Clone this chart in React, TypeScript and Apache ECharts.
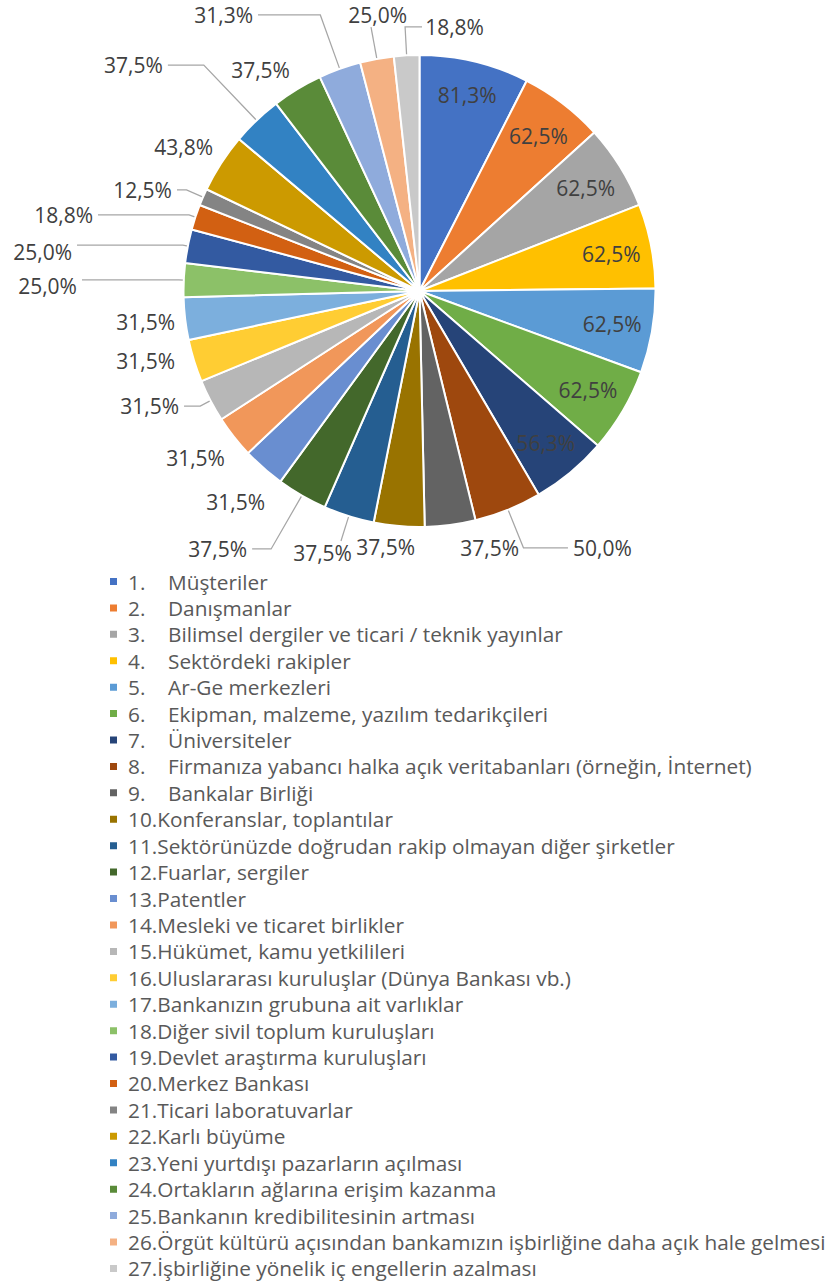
import React, { useEffect, useRef } from "react";
import * as echarts from "echarts";

const categories = [
  "Müşteriler",
  "Danışmanlar",
  "Bilimsel dergiler ve ticari / teknik yayınlar",
  "Sektördeki rakipler",
  "Ar-Ge merkezleri",
  "Ekipman, malzeme, yazılım tedarikçileri",
  "Üniversiteler",
  "Firmanıza yabancı halka açık veritabanları (örneğin, İnternet)",
  "Bankalar Birliği",
  "Konferanslar, toplantılar",
  "Sektörünüzde doğrudan rakip olmayan diğer şirketler",
  "Fuarlar, sergiler",
  "Patentler",
  "Mesleki ve ticaret birlikler",
  "Hükümet, kamu yetkilileri",
  "Uluslararası kuruluşlar (Dünya Bankası vb.)",
  "Bankanızın grubuna ait varlıklar",
  "Diğer sivil toplum kuruluşları",
  "Devlet araştırma kuruluşları",
  "Merkez Bankası",
  "Ticari laboratuvarlar",
  "Karlı büyüme",
  "Yeni yurtdışı pazarların açılması",
  "Ortakların ağlarına erişim kazanma",
  "Bankanın kredibilitesinin artması",
  "Örgüt kültürü açısından bankamızın işbirliğine daha açık hale gelmesi",
  "İşbirliğine yönelik iç engellerin azalması",
];

const values = [
  81.3, 62.5, 62.5, 62.5, 62.5, 62.5, 56.3, 50.0, 37.5, 37.5, 37.5, 37.5, 31.5,
  31.5, 31.5, 31.5, 31.5, 25.0, 25.0, 18.8, 12.5, 43.8, 37.5, 37.5, 31.3, 25.0,
  18.8,
];

const colors = [
  "#4472C4", "#ED7D31", "#A5A5A5", "#FFC000", "#5B9BD5", "#70AD47",
  "#264478", "#9E480E", "#636363", "#997300", "#255E91", "#43682B",
  "#698ED0", "#F1975A", "#B7B7B7", "#FFCD33", "#7CAFDD", "#8CC168",
  "#335AA1", "#D26012", "#848484", "#CC9A00", "#3282C3", "#5A8B39",
  "#8FABDC", "#F4B183", "#C9C9C9",
];

// label placement style: [lineLength, lineLength2, distance, showLine, verticalShift(px)]
const labelPlacement: [number, number, number, boolean, number][] = [
  [-34, -34, 5, false, 0],
  [-41, -34, 5, false, 0],
  [-41, -34, 5, false, 0],
  [-41, -34, 5, false, 0],
  [-41, -34, 5, false, 0],
  [-41, -34, 5, false, 0],
  [-39, -34, 5, false, 0],
  [41, 44.5, 5, true, 0],
  [23, 2, 5, false, 0],
  [21, -22.8, 5, false, 0],
  [26, 0, -11, true, 12],
  [61.6, 19, 5, true, 0],
  [45, -36.4, 5, false, 0],
  [34.5, -23.2, 5, false, 0],
  [11.6, 16.2, 5, true, 0],
  [0, 14, 5, false, 0],
  [28, -22.7, 5, false, 0],
  [5, 96.8, 5, true, 6],
  [5, 105.9, 5, true, 7],
  [6.7, 91, 5, true, 0],
  [18, 9.5, 5, true, 0],
  [29.7, -21.9, 5, false, 0],
  [76.4, 35.9, 5, true, 0],
  [22.3, -9.3, 5, false, 0],
  [57.3, 62.3, 5, true, 0],
  [32.4, 0, -36, true, -12],
  [28.4, -16.9, -62, true, 0],
];

const FONT = "'Open Sans', sans-serif";

export default function App() {
  const ref = useRef<HTMLDivElement>(null);

  useEffect(() => {
    document.body.style.margin = "0";
    if (!ref.current) return;
    const chart = echarts.init(ref.current, null, { renderer: "svg" });

    const names = categories.map((c, i) => `${i + 1}.${c}`);
    const fmt = (v: number) => v.toFixed(1).replace(".", ",") + "%";

    const data = values.map((v, i) => {
      const [len, len2, dist, showLine, shift] = labelPlacement[i];
      const label: any = { distanceToLabelLine: dist };
      if (shift !== 0) {
        label.lineHeight = Math.abs(shift) * 2;
        label.formatter = shift < 0 ? `${fmt(v)}\n ` : ` \n${fmt(v)}`;
      }
      return {
        name: names[i],
        value: v,
        itemStyle: { color: colors[i] },
        label,
        labelLine: { show: showLine, length: len, length2: len2 },
      };
    });

    chart.setOption({
      animation: false,
      legend: {
        orient: "vertical",
        left: 108,
        top: 571,
        height: 710,
        padding: 0,
        itemWidth: 9,
        itemHeight: 9,
        itemGap: 5.42,
        icon: "rect",
        selectedMode: false,
        data: names,
        formatter: (name: string) => {
          const idx = names.indexOf(name);
          const num = idx + 1;
          const cat = categories[idx];
          if (num < 10) return `{n|${num}.}{t|${cat}}`;
          return `{t|${num}.${cat}}`;
        },
        textStyle: {
          fontFamily: FONT,
          fontSize: 20.8,
          color: "#595959",
          padding: [0, 0, 0, 5],
          rich: {
            n: { width: 40, fontFamily: FONT, fontSize: 20.8, lineHeight: 21, color: "#595959" },
            t: { fontFamily: FONT, fontSize: 20.8, lineHeight: 21, color: "#595959" },
          },
        },
      },
      series: [
        {
          type: "pie",
          center: [419.5, 291],
          radius: [0, 236],
          startAngle: 90,
          clockwise: true,
          avoidLabelOverlap: false,
          itemStyle: { borderColor: "#ffffff", borderWidth: 2 },
          label: {
            show: true,
            position: "outside",
            fontFamily: FONT,
            fontSize: 21,
            color: "#404040",
            formatter: (p: any) => fmt(p.value),
          },
          labelLine: {
            minTurnAngle: 0,
            maxSurfaceAngle: 180,
            lineStyle: { color: "#A6A6A6", width: 1.25 },
          },
          emphasis: { disabled: true },
          data,
        },
      ],
    });

    return () => chart.dispose();
  }, []);

  return <div ref={ref} style={{ width: 830, height: 1282 }} />;
}
